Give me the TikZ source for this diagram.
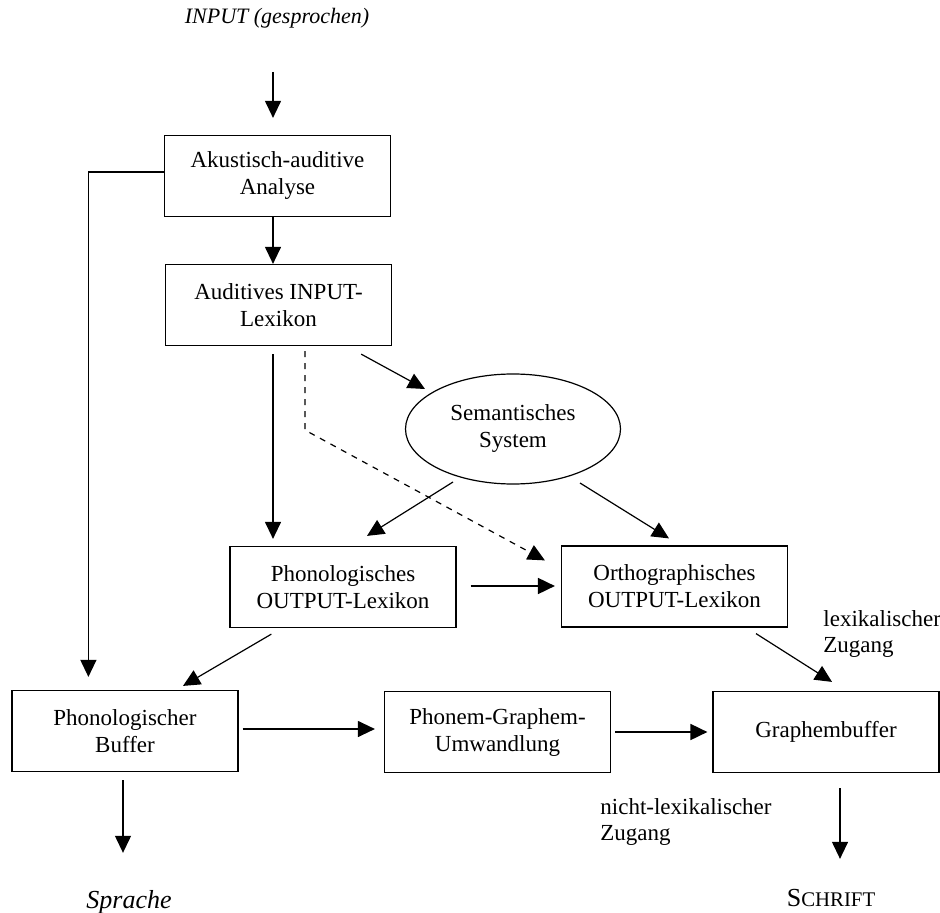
\documentclass[tikz,border=0pt]{standalone}
\usepackage{fontspec}
\setmainfont{Liberation Serif}
\usetikzlibrary{shapes.geometric, arrows.meta, calc}

\tikzset{
  modul/.style={draw, line width=0.6pt, minimum width=113pt, minimum height=40.5pt,
    align=center, inner sep=1pt, font=\fontsize{11.5}{13.5}\selectfont},
  pfeil/.style={-{Triangle[length=8.5pt,width=8pt]}, line width=0.6pt},
  etikett/.style={inner sep=0pt, align=left, font=\fontsize{11.5}{13}\selectfont}
}

\begin{document}
\begin{tikzpicture}[x=0.5pt, y=-0.5pt]
  \useasboundingbox (0,0) rectangle (940,913);

  % Eingabe
  \node[etikett, font=\fontsize{11}{13}\selectfont\itshape] (input) at (277,18) {INPUT (gesprochen)};

  % Module
  \node[modul] (akustik) at (277.5,176) {Akustisch-auditive\\Analyse};
  \node[modul] (auditiv) at (278.5,305) {Auditives INPUT-\\Lexikon};
  \node[ellipse, draw, line width=0.6pt, minimum width=107.5pt, minimum height=55pt,
    align=center, font=\fontsize{11.5}{13.5}\selectfont] (sem) at (513,429) {Semantisches\\System};
  \node[modul] (phonout) at (343,587) {Phonologisches\\OUTPUT-Lexikon};
  \node[modul] (orthout) at (674.5,586.5) {Orthographisches\\OUTPUT-Lexikon};
  \node[modul] (phonbuf) at (125,731) {Phonologischer\\Buffer};
  \node[modul] (pgu) at (497.5,732) {Phonem-Graphem-\\Umwandlung};
  \node[modul] (graphbuf) at (826,732) {Graphembuffer};

  % Zugangsbeschriftungen
  \node[etikett, anchor=west] (lex) at (823,634) {lexikalischer\\Zugang};
  \node[etikett, anchor=west] (nlex) at (600,822) {nicht-lexikalischer\\Zugang};

  % Ausgabe
  \node[etikett, font=\fontsize{13}{15}\selectfont\itshape] (sprache) at (129,902) {Sprache};
  \node[etikett, font=\fontsize{13}{15}\selectfont] (schrift) at (831,898) {S{\fontsize{10.4}{12}\selectfont CHRIFT}};

  % Verbindungen
  \draw[pfeil] ($(akustik.north)+(-4.5,-63)$) -- ($(akustik.north)+(-4.5,-17)$);
  \draw[pfeil] ($(akustik.south)+(-4.5,0)$) -- ($(auditiv.north)+(-5.5,0)$);
  \draw[pfeil] ($(akustik.west)+(0,-4)$) -| ($(phonbuf.north west)+(77,-13)$);
  \draw[pfeil] ($(auditiv.south east)+(-31,8)$) -- ($(sem.center)+(-88,-40)$);
  \draw[pfeil] ($(auditiv.south)+(-5.5,8)$) -- ($(phonout.north)+(-70,-7)$);
  \draw[pfeil, dashed] ($(auditiv.south)+(26.5,5)$) -- ++(0,79) -- ($(orthout.north west)+(-16,15)$);
  \draw[pfeil] ($(sem.center)+(-60,53)$) -- ($(phonout.north)+(24,-10)$);
  \draw[pfeil] ($(sem.center)+(67,54)$) -- ($(orthout.north)+(-5.5,-7)$);
  \draw[pfeil, line width=0.9pt] ($(phonout.east)+(14,-1)$) -- ($(orthout.west)+(-6,-0.5)$);
  \draw[pfeil] ($(phonout.south west)+(42,6)$) -- ($(phonbuf.north)+(58,-4)$);
  \draw[pfeil] ($(orthout.south)+(81.5,6)$) -- ($(graphbuf.north)+(6,-9)$);
  \draw[pfeil] ($(phonbuf.east)+(4,-2)$) -- ($(pgu.west)+(-9,-3)$);
  \draw[pfeil, line width=0.9pt] ($(pgu.east)+(4,0)$) -- ($(graphbuf.west)+(-5,0)$);
  \draw[pfeil] ($(phonbuf.south)+(-2,8)$) -- ($(sprache.north)+(-6,-37)$);
  \draw[pfeil] ($(graphbuf.south)+(14,15)$) -- ($(schrift.north)+(9,-30)$);
\end{tikzpicture}
\end{document}
